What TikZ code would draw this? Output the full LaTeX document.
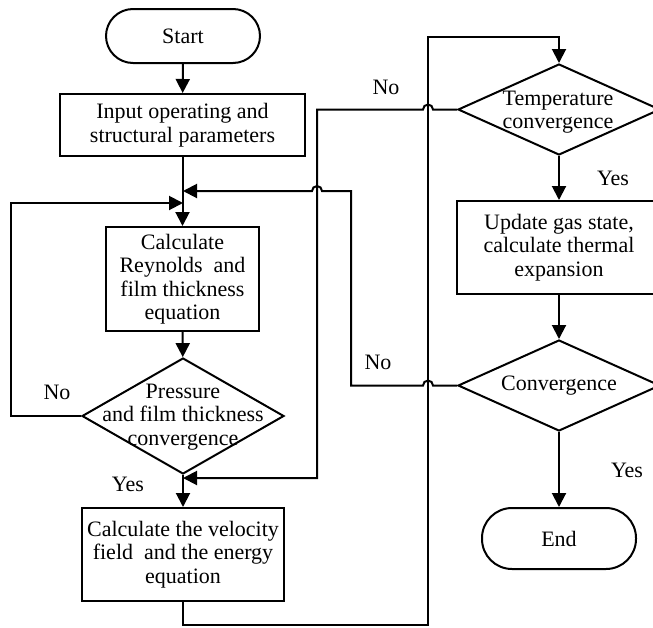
\documentclass[tikz,border=0pt]{standalone}
\usepackage{fontspec}
\setmainfont{Liberation Serif}
\usetikzlibrary{arrows.meta,shapes.geometric}
\begin{document}
\begin{tikzpicture}[x=1pt,y=-1pt,
  line width=2pt,
  every node/.style={font=\fontsize{22}{23.5}\selectfont, align=center},
  box/.style={draw, rectangle, inner sep=0pt, fill=white},
  term/.style={draw, rectangle, inner sep=0pt, fill=white},
  dia/.style={draw, diamond, inner sep=0pt, fill=white},
  arr/.style={-{Triangle[length=14pt,width=14pt]}},
  lbl/.style={inner sep=0pt}]
\useasboundingbox (0,0) rectangle (653,627);

% nodes
\node[term, minimum width=154pt, minimum height=54pt, rounded corners=27pt] (start) at (183,36) {Start};
\node[box, minimum width=245pt, minimum height=62pt] (input) at (182.5,125) {Input operating and\\structural parameters};
\node[box, minimum width=153pt, minimum height=104pt] (calc) at (182.5,279) {Calculate\\Reynolds\ \ and\\film thickness\\equation};
\node[dia, minimum width=202pt, minimum height=116pt] (pres) at (183,416) {};
\node (prestext) at (183,417) {Pressure\\and film thickness\\convergence};
\node[box, minimum width=202pt, minimum height=93pt] (vel) at (183,554.5) {Calculate the velocity\\field\ \ and the energy\\equation};

\node[dia, minimum width=202pt, minimum height=91pt] (temp) at (559,109.5) {};
\node (temptext) at (558,112) {Temperature\\convergence};
\node[box, minimum width=204pt, minimum height=93pt] (upd) at (559,247.5) {Update gas state,\\calculate thermal\\expansion};
\node[dia, minimum width=202pt, minimum height=91pt] (conv) at (559,385.5) {};
\node (convtext) at (559,386) {Convergence};
\node[term, minimum width=154pt, minimum height=61pt, rounded corners=30pt] (end) at (559,538.5) {End};

% labels
\node[lbl] (no1) at (57,392) {No};
\node[lbl] (yes1) at (128,484) {Yes};
\node[lbl] (no2) at (386,87) {No};
\node[lbl] (no3) at (378,362) {No};
\node[lbl] (yes2) at (613,178) {Yes};
\node[lbl] (yes3) at (627,470) {Yes};

% junction coordinates
\coordinate (jR) at (183,191);
\coordinate (jL) at (183,203);
\coordinate (jP) at (183,478);

% connectors
\draw[arr] (start) -- (input);
\draw[arr] (input) -- (calc);
\draw[arr] (calc) -- (pres);
\draw[arr] (pres.west) -- ++(-70,0) |- (jL);
\draw[arr] (pres) -- (vel);
\draw[arr] (vel.south) -- (183,625) -- (428,625) -- (428,37) -| (temp.north);
\draw[arr] (temp.west) -- (433,109.5) arc[start angle=0,end angle=180,radius=5pt] -- (317,109.5) |- (jP);
\draw[arr] (temp) -- (upd);
\draw[arr] (upd) -- (conv);
\draw[arr] (conv.west) -- (433,385.5) arc[start angle=0,end angle=180,radius=5pt] -- (351,385.5) -- (351,191) -- (322,191) arc[start angle=0,end angle=180,radius=5pt] -- (jR);
\draw[arr] (conv) -- (end);
\end{tikzpicture}
\end{document}
